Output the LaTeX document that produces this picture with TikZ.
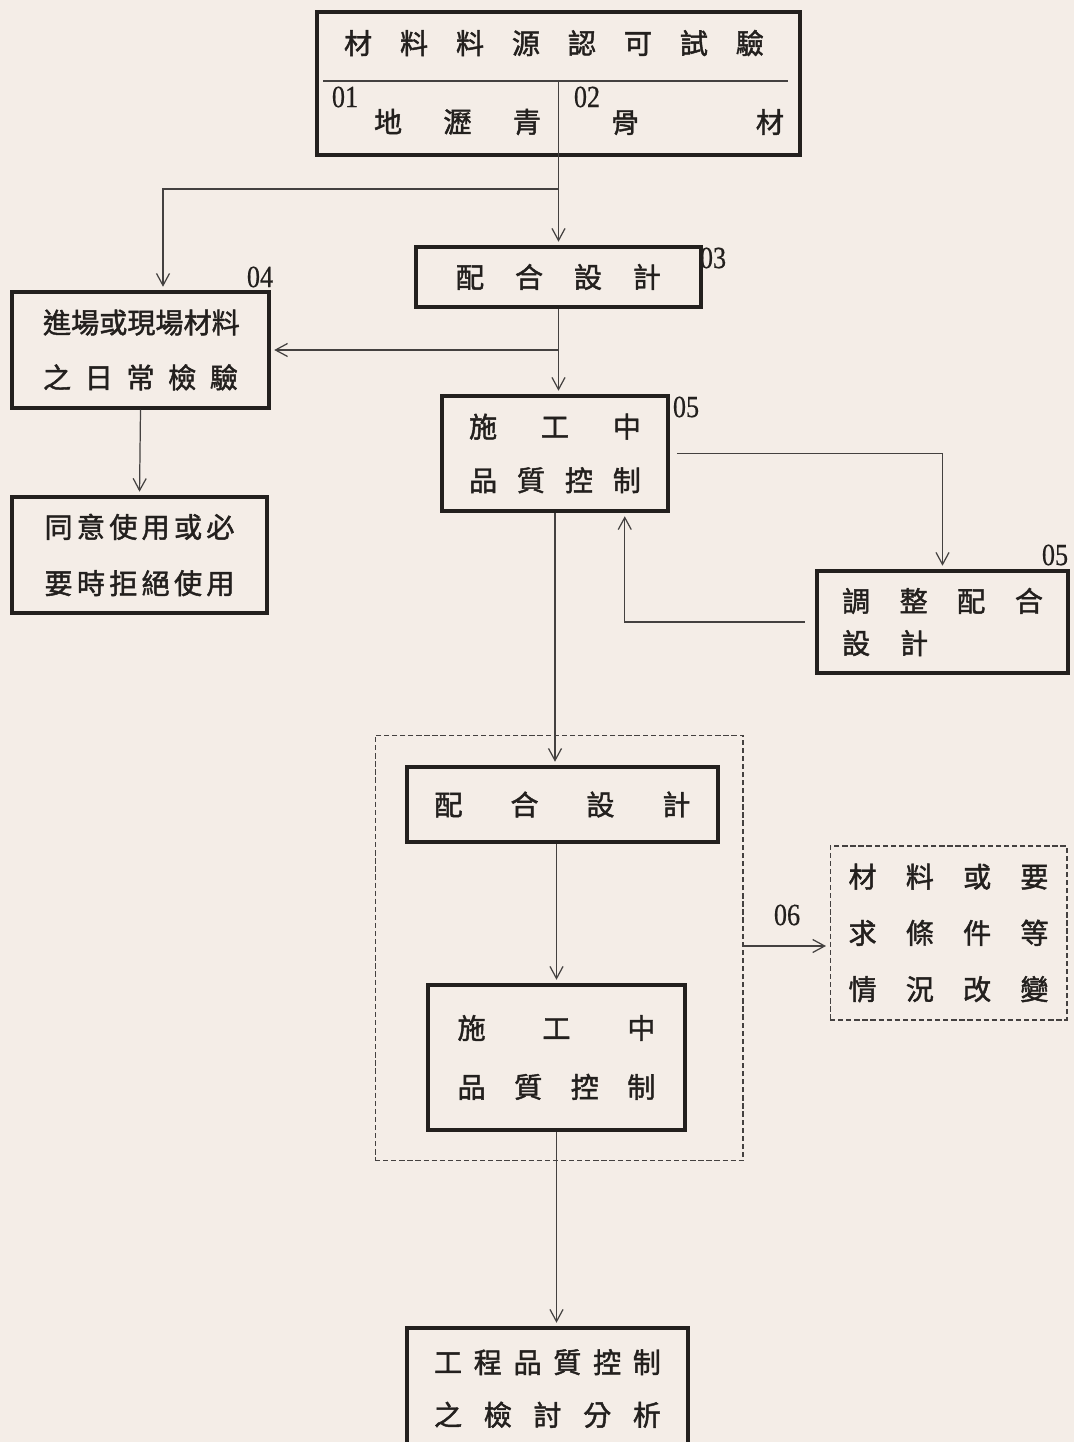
\documentclass[tikz,border=0pt]{standalone}
\usepackage{fontspec}
\setmainfont{Noto Sans CJK TC}[FakeBold=1.6]
\newfontfamily\numfont[FakeStretch=0.85,FakeBold=0.6]{Liberation Serif}
\usetikzlibrary{arrows.meta}

\definecolor{paper}{RGB}{244,237,231}
\definecolor{ink}{RGB}{35,32,30}

% one line of characters spread over a fixed width
\newcommand{\spread}[2]{\hbox to #1{#2}}

\begin{document}
\begin{tikzpicture}
		[x=0.02cm, y=-0.02cm,
		every node/.style={text=ink, inner sep=0pt, font=\fontsize{16}{18}\selectfont},
		box/.style={draw=ink, line width=2pt},
		dbox/.style={draw=ink!85, line width=0.6pt, dash pattern=on 3pt off 1.6pt},
		rows/.style={align=center, font=\fontsize{16}{#1}\selectfont},
		num/.style={font=\numfont\fontsize{17.5}{18}\selectfont},
		link/.style={draw=ink!85, line width=0.7pt},
		arr/.style={link, -{Straight Barb[length=2.4mm,width=2.6mm]}, shorten >=2pt}]

		\fill[paper] (0,0) rectangle (1074,1442);
		\useasboundingbox (0,0) rectangle (1074,1442);
		\clip (0,0) rectangle (1074,1442);

		% source approval box with its two cells
		\node[box, minimum width=9.66cm, minimum height=2.86cm] (src) at (558.5,83.5) {};
		\draw[link] (323,81) -- (788,81);
		\draw[link] (558.5,81) -- (src.south);
		\node (srctitle) at (554,43) {\spread{8.4cm}{材\hfill 料\hfill 料\hfill 源\hfill 認\hfill 可\hfill 試\hfill 驗}};
		\node[num] (n01) at (345,97) {01};
		\node (asphalt) at (457.5,122) {\spread{3.34cm}{地\hfill 瀝\hfill 青}};
		\node[num] (n02) at (587,97) {02};
		\node (aggregate) at (697.5,122) {\spread{3.46cm}{骨\hfill 材}};

		\node[box, minimum width=5.7cm, minimum height=1.2cm] (design) at (558.5,277)
			{\spread{4.1cm}{配\hfill 合\hfill 設\hfill 計}};
		\node[num] (n03) at (713,258) {03};

		\node[box, rows=31.3pt, minimum width=5.14cm, minimum height=2.32cm] (routine) at (140.5,350)
			{\spread{3.9cm}{進場或現場材料}\\ \spread{3.9cm}{之\hfill 日\hfill 常\hfill 檢\hfill 驗}};
		\node[num] (n04) at (260,277) {04};

		\node[box, rows=32pt, minimum width=5.1cm, minimum height=2.32cm] (accept) at (139.5,555)
			{\spread{3.8cm}{同\hfill 意\hfill 使\hfill 用\hfill 或\hfill 必}\\ \spread{3.8cm}{要\hfill 時\hfill 拒\hfill 絕\hfill 使\hfill 用}};

		\node[box, rows=30.5pt, minimum width=4.52cm, minimum height=2.3cm] (control) at (555,453.5)
			{\spread{3.44cm}{施\hfill 工\hfill 中}\\ \spread{3.44cm}{品\hfill 質\hfill 控\hfill 制}};
		\node[num] (n05a) at (686,407) {05};

		\node[box, rows=24pt, minimum width=5.02cm, minimum height=2.04cm] (adjust) at (942.5,622)
			{\spread{4.02cm}{調\hfill 整\hfill 配\hfill 合}\\ \spread{4.02cm}{設\hskip0.6cm 計\hfill}};
		\node[num] (n05b) at (1055,555) {05};

		% repeated design loop
		\node[dbox, minimum width=7.36cm, minimum height=8.52cm] (group) at (559,948) {};
		\node[box, minimum width=6.22cm, minimum height=1.5cm] (redesign) at (562.5,804.5)
			{\spread{5.12cm}{配\hfill 合\hfill 設\hfill 計}};
		\node[box, rows=33.5pt, minimum width=5.14cm, minimum height=2.9cm] (recontrol) at (556.5,1057.5)
			{\spread{3.96cm}{施\hfill 工\hfill 中}\\ \spread{3.96cm}{品\hfill 質\hfill 控\hfill 制}};

		\node[dbox, rows=32pt, minimum width=4.74cm, minimum height=3.48cm] (change) at (948.5,933)
			{\spread{4cm}{材\hfill 料\hfill 或\hfill 要}\\ \spread{4cm}{求\hfill 條\hfill 件\hfill 等}\\ \spread{4cm}{情\hfill 況\hfill 改\hfill 變}};
		\node[num] (n06) at (787,915) {06};

		\node[box, rows=30pt, minimum width=5.62cm, minimum height=2.42cm] (review) at (547.5,1388.5)
			{\spread{4.54cm}{工\hfill 程\hfill 品\hfill 質\hfill 控\hfill 制}\\ \spread{4.54cm}{之\hfill 檢\hfill 討\hfill 分\hfill 析}};

		% connectors
		\coordinate (split) at (558.5,189);
		\coordinate (splitL) at (163,189);
		\coordinate (tap) at (558.5,350);
		\coordinate (out6) at (743,946);

		\draw[link] (src.south) -- (split);
		\draw[arr] (split) -- (splitL) -- (splitL |- routine.north);
		\draw[arr] (split) -- (design.north);
		\draw[arr] (design.south) -- (design.south |- control.north);
		\draw[arr] (tap) -- (tap -| routine.east);
		\draw[arr] (routine.south) -- (accept.north);
		\draw[arr, shorten <=4pt] (control.east) -| (adjust.north);
		\draw[arr, shorten <=6pt] (adjust.west) -| ([xshift=-0.9cm]control.south east);
		\draw[arr] (control.south) -- (control.south |- redesign.north);
		\draw[arr] (recontrol.north |- redesign.south) -- (recontrol.north);
		\draw[arr] (recontrol.south) -- (recontrol.south |- review.north);
		\draw[arr] (out6) -- (out6 -| change.west);
\end{tikzpicture}
\end{document}
